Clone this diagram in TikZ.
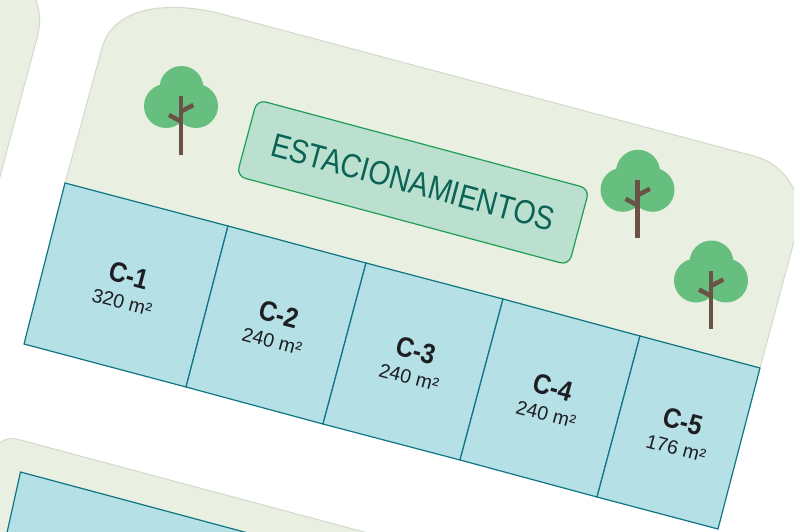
\documentclass[tikz,border=0pt]{standalone}
\usepackage{fontspec}
\setmainfont{Liberation Sans}
\newfontfamily\narrowfont[FakeStretch=0.85]{Liberation Sans}
\newfontfamily\lotfont[FakeStretch=0.88]{Liberation Sans Bold}
\definecolor{blockfill}{HTML}{E9F0E2}
\definecolor{blockline}{HTML}{D2DACA}
\definecolor{lotfill}{HTML}{B4E0E6}
\definecolor{lotline}{HTML}{0F7585}
\definecolor{signfill}{HTML}{BBE0D0}
\definecolor{signline}{HTML}{1F9D55}
\definecolor{signtext}{HTML}{0B6355}
\definecolor{crown}{HTML}{66BF7E}
\definecolor{trunk}{HTML}{6A5346}
\definecolor{labeltext}{HTML}{1E1E22}
\tikzset{block/.style = {fill=blockfill, draw=blockline, line width=1pt},
         lot/.style = {fill=lotfill, draw=lotline, line width=1.2pt, line join=miter},
         lotlabel/.style = {text=labeltext, rotate=-15, align=center, inner sep=0pt,
                            font=\fontsize{19.5}{17}\selectfont},
         signbox/.style = {fill=signfill, draw=signline, line width=1.2pt, rounded corners=9,
                           rotate=-15, minimum width=344, minimum height=79, inner sep=0pt,
                           text=signtext, font=\narrowfont\fontsize{33.5}{36}\selectfont},
         pics/treepic/.style = {code={
             \fill [crown] (-15, -48.5) circle (22);
             \fill [crown] (15, -48.5) circle (22);
             \fill [crown] (0.5, -66.5) circle (22);
             \draw [trunk, line width=4.5pt] (0, 0) -- (0, -58.5);
             \draw [trunk, line width=4.5pt] (0, -43) -- (12.3, -49.5);
             \draw [trunk, line width=4.5pt] (0, -33) -- (-12, -39.5);
         }}}
\newcommand{\lotname}[1]{{\lotfont\fontsize{28}{28}\selectfont #1}}
\begin{document}
\begin{tikzpicture}[x=1pt, y=-1pt]
    \useasboundingbox (0, 0) rectangle (794, 532);
    \clip (0, 0) rectangle (794, 532);

    % neighbouring blocks
    \draw [block, rounded corners=60] (-140, -74) -- (53, -22) -- (-50, 364) -- (-243, 312) -- cycle;
    \draw [block, rounded corners=20] (-2, 434) -- (577, 589) -- (500, 880) -- (-80, 725) -- cycle;
    \draw [lot] (20.5, 472) -- (407, 575.6) -- (381, 672) -- (-1, 568.6) -- cycle;

    % main block
    \draw [block] (65, 183) -- (102, 48) .. controls (111, 14) and (152, -1) .. (215, 12.2)
        -- (754.7, 156.3) .. controls (786.6, 164.8) and (805.7, 197.6) .. (797.2, 229.4)
        -- (760, 368) -- cycle;

    \coordinate (a0) at (65, 183);
    \coordinate (a1) at (228, 226);
    \coordinate (a2) at (366, 263);
    \coordinate (a3) at (503, 299);
    \coordinate (a4) at (640, 336);
    \coordinate (a5) at (760, 368);
    \coordinate (b0) at (24, 344);
    \coordinate (b1) at (186, 387);
    \coordinate (b2) at (323, 424);
    \coordinate (b3) at (460, 460);
    \coordinate (b4) at (597, 497);
    \coordinate (b5) at (718, 529);

    \draw [lot] (a0) -- (a1) -- (b1) -- (b0) -- cycle;
    \draw [lot] (a1) -- (a2) -- (b2) -- (b1) -- cycle;
    \draw [lot] (a2) -- (a3) -- (b3) -- (b2) -- cycle;
    \draw [lot] (a3) -- (a4) -- (b4) -- (b3) -- cycle;
    \draw [lot] (a4) -- (a5) -- (b5) -- (b4) -- cycle;

    \node [lotlabel] (c1) at (126, 287.5) {\lotname{C-1}\\[8pt]320 m²};
    \node [lotlabel] (c2) at (276, 326.5) {\lotname{C-2}\\[8pt]240 m²};
    \node [lotlabel] (c3) at (413, 362.5) {\lotname{C-3}\\[8pt]240 m²};
    \node [lotlabel] (c4) at (550, 399.5) {\lotname{C-4}\\[8pt]240 m²};
    \node [lotlabel] (c5) at (680, 433.5) {\lotname{C-5}\\[8pt]176 m²};

    \node [signbox] (sign) at (413, 182.4) {ESTACIONAMIENTOS};

    \pic at (181, 154.5) {treepic};
    \pic at (637.5, 238.3) {treepic};
    \pic at (711, 329) {treepic};
\end{tikzpicture}
\end{document}
